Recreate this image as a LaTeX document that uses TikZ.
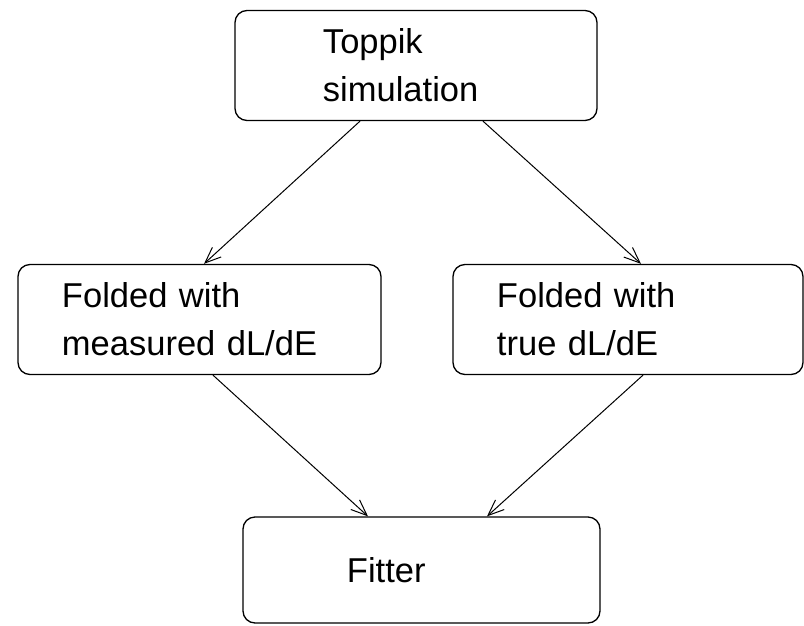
\documentclass[tikz,border=0pt]{standalone}
\usepackage{fontspec}
\setmainfont{Liberation Sans}
\usetikzlibrary{arrows.meta, positioning}

\tikzset{
    box/.style={draw, line width=1.3pt, rounded corners=12pt, minimum height=110pt,
        align=left, font=\fontsize{34.5}{48}\selectfont},
    >={Straight Barb[length=16pt, width=13pt]}
}

\begin{document}
\begin{tikzpicture}[node distance=254pt, line width=1pt]
            \useasboundingbox (-416pt,65.5pt) rectangle (388pt,-559.5pt);
            \node[box, text width=186pt, inner xsep=88pt] (top) {Toppik\\simulation};
            \node[box, below of=top, xshift=-216.5pt, text width=275pt, inner xsep=44pt] (left) {Folded with\\measured dL/dE};
            \node[box, below of=top, xshift=212pt, text width=262pt, inner xsep=44pt] (right) {Folded with\\true dL/dE};
            \node[box, below of=left, xshift=222pt, yshift=3.5pt, text width=149pt, inner xsep=104pt, minimum height=106pt] (fit) {Fitter};
            \draw[->] ([xshift=-56pt]top.south) -- ([xshift=4.5pt]left.north);
            \draw[->] ([xshift=67pt]top.south) -- ([xshift=13pt]right.north);
            \draw[->] ([xshift=13.5pt]left.south) -- ([xshift=-53.5pt]fit.north);
            \draw[->] ([xshift=15pt]right.south) -- ([xshift=65.5pt]fit.north);
        \end{tikzpicture}
\end{document}
